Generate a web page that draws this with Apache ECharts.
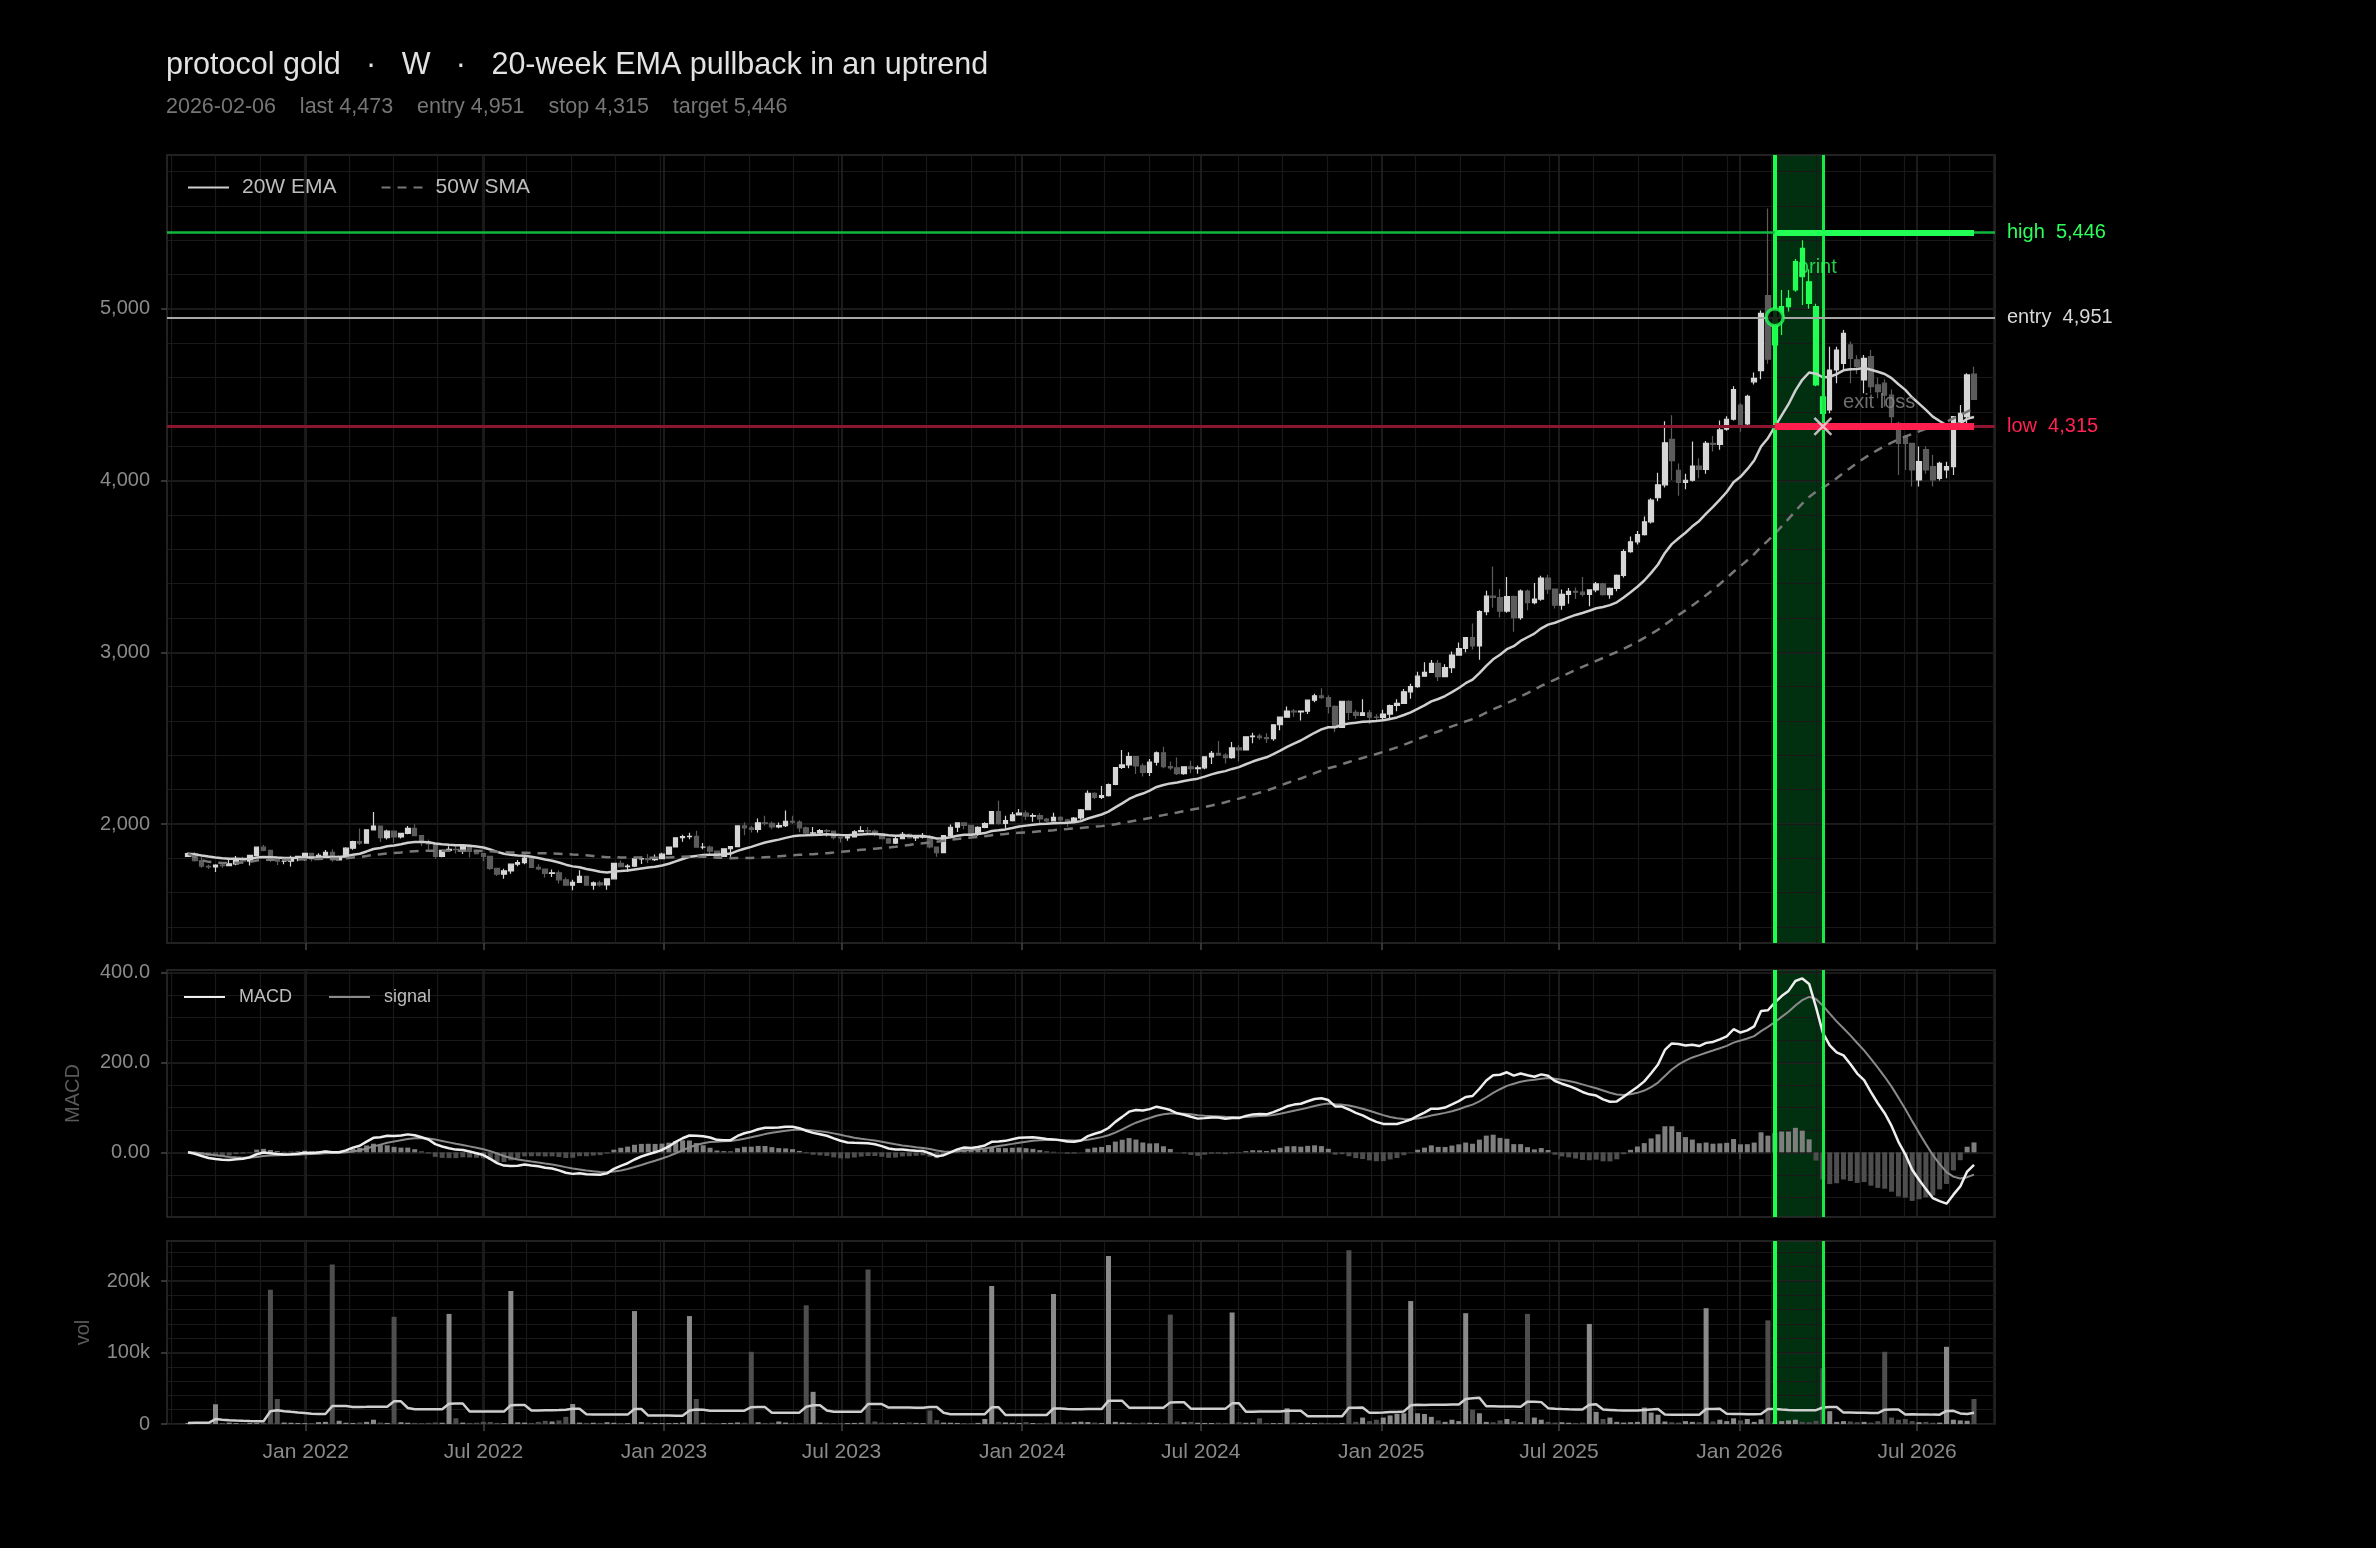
<!DOCTYPE html>
<html>
<head>
<meta charset="utf-8">
<script src="https://cdn.jsdelivr.net/npm/echarts@6/dist/echarts.min.js"></script>
<style>
  html, body { margin: 0; padding: 0; background: #000; }
  #chart { width: 2376px; height: 1548px; }
</style>
</head>
<body>
<div id="chart"></div>
<script>
// weekly bars, first one on this date
var firstWeek = '2021-09-03'

var opens = [
  1812, 1827, 1787, 1754, 1750, 1761, 1757, 1768, 1793, 1784,
  1817, 1865, 1846, 1792, 1783, 1783, 1804, 1811, 1829, 1797,
  1818, 1835, 1791, 1808, 1859, 1898, 1889, 1966, 1988, 1921,
  1958, 1925, 1945, 1975, 1932, 1897, 1884, 1811, 1846, 1853,
  1851, 1871, 1840, 1827, 1811, 1742, 1708, 1727, 1766, 1775,
  1802, 1747, 1738, 1712, 1716, 1675, 1644, 1660, 1695, 1644,
  1657, 1645, 1681, 1771, 1751, 1755, 1797, 1798, 1793, 1798,
  1824, 1866, 1920, 1926, 1928, 1865, 1865, 1842, 1811, 1856,
  1868, 1989, 1978, 1969, 2007, 2004, 1983, 1990, 2016, 2011,
  1978, 1946, 1948, 1961, 1958, 1921, 1919, 1925, 1955, 1962,
  1959, 1943, 1914, 1889, 1914, 1940, 1919, 1924, 1925, 1866,
  1833, 1932, 1981, 2006, 1992, 1940, 1980, 2002, 2072, 2004,
  2020, 2053, 2063, 2045, 2049, 2029, 2018, 2039, 2024, 2013,
  2035, 2083, 2179, 2155, 2165, 2230, 2329, 2344, 2392, 2338,
  2301, 2360, 2415, 2334, 2327, 2293, 2333, 2322, 2327, 2391,
  2411, 2401, 2386, 2443, 2431, 2508, 2512, 2503, 2497, 2578,
  2622, 2658, 2653, 2657, 2721, 2747, 2736, 2685, 2563, 2715,
  2650, 2633, 2648, 2622, 2621, 2640, 2690, 2703, 2770, 2800,
  2861, 2883, 2936, 2858, 2911, 2984, 3022, 3085, 3037, 3237,
  3327, 3319, 3240, 3325, 3202, 3357, 3289, 3310, 3432, 3368,
  3274, 3337, 3355, 3350, 3337, 3363, 3398, 3336, 3372, 3448,
  3586, 3643, 3685, 3760, 3900, 3975, 4240, 4060, 3990, 4002,
  4085, 4065, 4217, 4210, 4300, 4357, 4440, 4330, 4575, 4640,
  5077, 4790, 4955, 5013, 5110, 5352, 5158, 5013, 4488, 4411,
  4644, 4683, 4790, 4703, 4586, 4722, 4557, 4567, 4498, 4333,
  4256, 4217, 4004, 4180, 4081, 4013, 4062, 4081, 4343, 4372,
  4620
]
var highs = [
  1834, 1836, 1809, 1764, 1765, 1770, 1800, 1814, 1810, 1818,
  1868, 1877, 1848, 1792, 1795, 1815, 1815, 1830, 1831, 1830,
  1848, 1853, 1815, 1865, 1902, 1974, 1970, 2070, 1990, 1966,
  1960, 1948, 1988, 1998, 1935, 1910, 1885, 1849, 1870, 1874,
  1876, 1880, 1847, 1828, 1812, 1745, 1739, 1767, 1790, 1808,
  1802, 1765, 1740, 1735, 1729, 1688, 1676, 1730, 1698, 1665,
  1670, 1682, 1772, 1787, 1765, 1804, 1810, 1825, 1823, 1833,
  1869, 1922, 1937, 1949, 1960, 1890, 1875, 1846, 1858, 1870,
  1990, 2010, 1990, 2032, 2048, 2015, 2009, 2079, 2048, 2022,
  1985, 1983, 1971, 1971, 1958, 1925, 1935, 1963, 1987, 1982,
  1968, 1946, 1918, 1925, 1953, 1945, 1933, 1947, 1936, 1866,
  1935, 1997, 2009, 2010, 1995, 1987, 2010, 2075, 2135, 2048,
  2070, 2088, 2078, 2062, 2062, 2035, 2065, 2045, 2030, 2041,
  2088, 2195, 2185, 2222, 2236, 2330, 2431, 2418, 2395, 2352,
  2378, 2422, 2450, 2364, 2387, 2335, 2368, 2340, 2392, 2425,
  2483, 2412, 2477, 2460, 2509, 2531, 2525, 2529, 2578, 2625,
  2685, 2670, 2660, 2722, 2758, 2790, 2750, 2690, 2715, 2721,
  2665, 2726, 2664, 2639, 2665, 2696, 2726, 2786, 2817, 2886,
  2942, 2955, 2955, 2930, 3005, 3057, 3087, 3168, 3245, 3358,
  3500, 3368, 3438, 3330, 3366, 3366, 3403, 3446, 3452, 3370,
  3365, 3375, 3377, 3438, 3363, 3409, 3405, 3378, 3453, 3600,
  3675, 3707, 3791, 3897, 4045, 4345, 4381, 4100, 4040, 4227,
  4130, 4230, 4260, 4350, 4375, 4550, 4450, 4500, 4630, 4990,
  5585, 4995, 5110, 5110, 5290, 5400, 5230, 5030, 4557, 4780,
  4780, 4877, 4810, 4730, 4732, 4760, 4600, 4590, 4530, 4343,
  4266, 4217, 4198, 4200, 4150, 4110, 4110, 4372, 4440, 4625,
  4663
]
var lows = [
  1808, 1782, 1745, 1738, 1721, 1745, 1755, 1760, 1770, 1758,
  1813, 1842, 1778, 1761, 1765, 1753, 1783, 1786, 1782, 1790,
  1806, 1780, 1788, 1806, 1850, 1878, 1888, 1964, 1895, 1910,
  1890, 1915, 1940, 1930, 1872, 1850, 1798, 1807, 1840, 1828,
  1825, 1805, 1822, 1784, 1732, 1697, 1681, 1711, 1754, 1765,
  1745, 1730, 1688, 1691, 1654, 1640, 1614, 1658, 1640, 1617,
  1636, 1617, 1680, 1747, 1721, 1750, 1767, 1773, 1785, 1797,
  1823, 1865, 1896, 1911, 1861, 1853, 1818, 1804, 1809, 1809,
  1865, 1934, 1950, 1950, 1992, 1970, 1975, 1982, 2000, 1952,
  1937, 1935, 1940, 1925, 1910, 1893, 1902, 1922, 1952, 1942,
  1929, 1912, 1885, 1884, 1913, 1914, 1901, 1915, 1857, 1810,
  1830, 1920, 1954, 1970, 1932, 1932, 1975, 2001, 1995, 1973,
  2015, 2050, 2023, 2013, 2002, 2010, 2015, 2015, 1984, 2010,
  2025, 2080, 2146, 2146, 2160, 2225, 2320, 2325, 2291, 2277,
  2280, 2340, 2325, 2315, 2286, 2287, 2295, 2293, 2319, 2350,
  2396, 2353, 2380, 2364, 2430, 2470, 2491, 2472, 2485, 2546,
  2620, 2624, 2603, 2640, 2709, 2730, 2643, 2536, 2560, 2605,
  2613, 2631, 2583, 2603, 2600, 2615, 2656, 2700, 2730, 2793,
  2860, 2879, 2833, 2857, 2880, 2982, 3000, 3016, 2957, 3215,
  3260, 3202, 3230, 3120, 3190, 3245, 3280, 3300, 3340, 3255,
  3247, 3283, 3310, 3325, 3268, 3350, 3330, 3312, 3355, 3435,
  3580, 3628, 3680, 3750, 3880, 3960, 4004, 3911, 3950, 3995,
  4013, 4040, 4170, 4180, 4290, 4350, 4285, 4310, 4560, 4590,
  4680, 4780, 4848, 4984, 5100, 5022, 5000, 4550, 4256, 4392,
  4567, 4644, 4567, 4620, 4508, 4508, 4480, 4430, 4333, 4033,
  4062, 3965, 3965, 4040, 3965, 4000, 4013, 4033, 4330, 4333,
  4469
]
var closes = [
  1827, 1787, 1754, 1750, 1761, 1757, 1768, 1793, 1784, 1817,
  1865, 1846, 1792, 1783, 1783, 1804, 1811, 1829, 1797, 1818,
  1835, 1791, 1808, 1859, 1898, 1889, 1966, 1988, 1921, 1958,
  1925, 1945, 1975, 1932, 1897, 1884, 1811, 1846, 1853, 1851,
  1871, 1840, 1827, 1811, 1742, 1708, 1727, 1766, 1775, 1802,
  1747, 1738, 1712, 1716, 1675, 1644, 1660, 1695, 1644, 1657,
  1645, 1681, 1771, 1751, 1755, 1797, 1798, 1793, 1798, 1824,
  1866, 1920, 1926, 1928, 1865, 1865, 1842, 1811, 1856, 1868,
  1989, 1978, 1969, 2007, 2004, 1983, 1990, 2016, 2011, 1978,
  1946, 1948, 1961, 1958, 1921, 1919, 1925, 1955, 1962, 1959,
  1943, 1914, 1889, 1914, 1940, 1919, 1924, 1925, 1866, 1833,
  1932, 1981, 2006, 1992, 1940, 1980, 2002, 2072, 2004, 2020,
  2053, 2063, 2045, 2049, 2029, 2018, 2039, 2024, 2013, 2035,
  2083, 2179, 2155, 2165, 2230, 2329, 2344, 2392, 2338, 2301,
  2360, 2415, 2334, 2327, 2293, 2333, 2322, 2327, 2391, 2411,
  2401, 2386, 2443, 2431, 2508, 2512, 2503, 2497, 2578, 2622,
  2658, 2653, 2657, 2721, 2747, 2736, 2685, 2563, 2715, 2650,
  2633, 2648, 2622, 2621, 2640, 2690, 2703, 2770, 2800, 2861,
  2883, 2936, 2858, 2911, 2984, 3022, 3085, 3037, 3237, 3327,
  3319, 3240, 3325, 3202, 3357, 3289, 3310, 3432, 3368, 3274,
  3337, 3355, 3350, 3337, 3363, 3398, 3336, 3372, 3448, 3586,
  3643, 3685, 3760, 3886, 3975, 4220, 4116, 3990, 4002, 4085,
  4065, 4217, 4210, 4295, 4357, 4530, 4320, 4490, 4595, 4974,
  4707, 4945, 5013, 5061, 5275, 5187, 5032, 4557, 4391, 4644,
  4760, 4857, 4712, 4664, 4712, 4547, 4518, 4498, 4372, 4217,
  4217, 4062, 4110, 4062, 4004, 4100, 4081, 4372, 4391, 4615,
  4473
]
var volumes = [
  1500, 2200, 1800, 1200, 27600, 1500, 2000, 1300, 1100, 1600,
  1400, 1800, 187700, 35000, 2100, 1800, 1500, 1200, 1300, 2600,
  3000, 223000, 4500, 1800, 1500, 2200, 3000, 6000, 2000, 1500,
  150000, 2500, 1800, 1500, 1200, 1600, 2200, 1800, 154000, 8000,
  2000, 1500, 1800, 3000, 2800, 1600, 1200, 186000, 2400, 2000,
  1500, 3000, 4500, 3500, 5000, 10000, 28000, 2000, 1500, 1800,
  1500, 2500, 1800, 1400, 1200, 158000, 2800, 2000, 1500, 1300,
  1200, 1500, 2000, 151000, 35000, 1800, 1500, 1200, 1400, 1600,
  2200, 1800, 101000, 2500, 1500, 1800, 3500, 2000, 1400, 1600,
  166000, 45000, 2000, 1600, 1400, 1200, 1300, 1500, 1800, 216000,
  3500, 2000, 1500, 1800, 1400, 2200, 1600, 1300, 19000, 5500,
  2000, 1800, 1500, 1400, 1200, 1600, 7000, 193000, 3000, 2200,
  1800, 1500, 2500, 1400, 1300, 1800, 182000, 2600, 2000, 2800,
  3200, 2800, 2000, 1500, 235000, 3000, 2200, 1800, 1500, 2000,
  1800, 1500, 1200, 153000, 3500, 2500, 3000, 1800, 1500, 1400,
  1800, 1500, 156000, 2500, 1800, 2000, 8000, 1500, 1300, 1200,
  22000, 2000, 1500, 1600, 1400, 1800, 1500, 1200, 1500, 243000,
  3000, 9000, 4000, 6000, 9000, 12000, 14000, 15000, 172000, 15000,
  14000, 10000, 5000, 3000, 6000, 4000, 155000, 20000, 15000, 3000,
  2500, 5000, 7000, 4000, 2500, 154000, 9000, 6000, 3000, 2000,
  2500, 1800, 1500, 2000, 140000, 17000, 7000, 9000, 3000, 2000,
  2500, 3000, 23000, 16000, 13000, 3500, 2500, 2000, 4000, 3000,
  2500, 162000, 3500, 6000, 4000, 8000, 5000, 7000, 3000, 6500,
  145000, 2500, 4000, 5000, 6000, 3000, 2500, 4500, 78000, 18000,
  3000, 4000, 3500, 2500, 3000, 2000, 4000, 101000, 9000, 6000,
  7000, 4000, 2500, 3000, 1800, 2000, 108000, 6000, 5000, 4500,
  35000
]

// trade setup
var entryDate = '2026-02-06'
var exitDate = '2026-03-27'
var entryPrice = 4951
var stopPrice = 4315
var targetPrice = 5446

// ticks
var priceTicks = [2000, 3000, 4000, 5000]
var macdTicks = [0, 200, 400]
var volTicks = [0, 100000, 200000]
var dateTicks = ['2022-01-01', '2022-07-01', '2023-01-01', '2023-07-01', '2024-01-01',
  '2024-07-01', '2025-01-01', '2025-07-01', '2026-01-01', '2026-07-01']
var months = ['Jan', 'Feb', 'Mar', 'Apr', 'May', 'Jun', 'Jul', 'Aug', 'Sep', 'Oct', 'Nov', 'Dec']

var DAY = 86400000
var t0 = Date.parse(firstWeek)
var weeks = closes.map(function (c, i) { return t0 + i * 7 * DAY })
var tEntry = Date.parse(entryDate)
var tExit = Date.parse(exitDate)
var tLast = weeks[weeks.length - 1]
var xMin = t0 - 21.4 * DAY
var xMax = tLast + 21.4 * DAY

// indicators
function emaOf(values, span) {
  var k = 2 / (span + 1)
  var out = []
  values.forEach(function (v, i) {
    out.push(i === 0 ? v : out[i - 1] + k * (v - out[i - 1]))
  })
  return out
}
function meanOf(values, n) {
  return values.map(function (v, i) {
    var s = 0, c = 0
    for (var j = Math.max(0, i - n + 1); j <= i; j++) { s += values[j]; c++ }
    return s / c
  })
}
var ema20 = emaOf(closes, 20)
var sma50 = meanOf(closes, 50)
var ema12 = emaOf(closes, 12)
var ema26 = emaOf(closes, 26)
var macd = ema12.map(function (v, i) { return v - ema26[i] })
var signal = emaOf(macd, 9)
var hist = macd.map(function (v, i) { return v - signal[i] })
var volAvg = meanOf(volumes, 20)

function pairs(arr) { return arr.map(function (v, i) { return [weeks[i], v] }) }

var UP = '#d6d6d6', DOWN = '#5c5c5c', GREEN = '#22ff55'
var candles = weeks.map(function (t, i) {
  var item = { value: [t, opens[i], closes[i], lows[i], highs[i]] }
  if (t >= tEntry && t <= tExit) {
    item.itemStyle = { color: GREEN, color0: GREEN, borderColor: GREEN, borderColor0: GREEN }
  }
  return item
})

// grid line positions
var majorX = dateTicks.map(function (d) { return Date.parse(d) })
var minorX = []
for (var t = Date.parse('2021-10-01') - 45.3 * DAY; t < xMax; t += 45.3 * DAY) minorX.push(t)
function steps(a, b, s) { var o = []; for (var v = a; v <= b; v += s) o.push(v); return o }

function fmtNum(v) { return v.toLocaleString('en-US') }
var font = 'Liberation Sans'
var gridMajor = '#242424', gridMinor = '#191919'
var grids = [
  { top: 155, height: 788 },
  { top: 970, height: 247 },
  { top: 1241, height: 183 }
]
var xAxes = [], yAxes = []
grids.forEach(function (g, gi) {
  xAxes.push({
    type: 'value', gridIndex: gi, min: xMin, max: xMax, scale: true,
    axisLine: { show: false },
    axisTick: { show: true, length: 7, customValues: majorX, lineStyle: { color: '#444', width: 1.5 } },
    axisLabel: {
      show: gi === 2, customValues: majorX, color: '#8a8a8a', fontSize: 21, margin: 18, fontFamily: font,
      formatter: function (v) { var d = new Date(v); return months[d.getUTCMonth()] + ' ' + d.getUTCFullYear() }
    },
    splitLine: { show: true, lineStyle: { color: gridMajor, width: 1.5 } }
  })
  xAxes.push({
    type: 'value', gridIndex: gi, min: xMin, max: xMax, scale: true,
    axisLine: { show: false }, axisLabel: { show: false },
    axisTick: { show: false, customValues: minorX },
    splitLine: { show: true, lineStyle: { color: gridMinor, width: 1.2 } }
  })
})

var yDefs = [
  { min: 1307, max: 5896, ticks: priceTicks, minor: steps(1400, 5800, 200), fmt: fmtNum, name: '', gap: 0 },
  { min: -144, max: 406, ticks: macdTicks, minor: steps(-100, 400, 50),
    fmt: function (v) { return v === 0 ? '0.00' : v.toFixed(1) }, name: 'MACD', gap: 84 },
  { min: 0, max: 256000, ticks: volTicks, minor: steps(0, 240000, 20000),
    fmt: function (v) { return v === 0 ? '0' : (v / 1000) + 'k' }, name: 'vol', gap: 74 }
]
yDefs.forEach(function (d, gi) {
  yAxes.push({
    type: 'value', gridIndex: gi, min: d.min, max: d.max,
    name: d.name, nameLocation: 'middle', nameRotate: 90, nameGap: d.gap,
    nameTextStyle: { color: '#5a5a5a', fontSize: 20, fontFamily: font },
    axisLine: { show: false },
    axisTick: { show: true, length: 6, customValues: d.ticks, lineStyle: { color: '#444', width: 1.5 } },
    axisLabel: { customValues: d.ticks, formatter: d.fmt, color: '#8a8a8a', fontSize: 20, margin: 17, fontFamily: font },
    splitLine: { show: true, lineStyle: { color: gridMajor, width: 1.5 } }
  })
  yAxes.push({
    type: 'value', gridIndex: gi, min: d.min, max: d.max,
    axisLine: { show: false }, axisLabel: { show: false },
    axisTick: { show: false, customValues: d.minor },
    splitLine: { show: true, lineStyle: { color: gridMinor, width: 1.2 } }
  })
})

// band (entry -> exit) for every panel
var bandArea = {
  silent: true, z: -1,
  itemStyle: { color: '#00300f' },
  data: [[{ xAxis: tEntry }, { xAxis: tExit }]]
}
var bandEdges = [
  { xAxis: tEntry, lineStyle: { color: '#19ff4a', width: 4, type: 'solid' } },
  { xAxis: tExit, lineStyle: { color: '#19e846', width: 3, type: 'solid' } }
]
function levelLabel(text, color) {
  return { show: true, position: 'end', distance: 12, formatter: text, color: color, fontSize: 20, fontFamily: font }
}

var option = {
  backgroundColor: '#000',
  animation: false,
  textStyle: { fontFamily: font },
  title: {
    text: 'protocol gold   \u00b7   W   \u00b7   20-week EMA pullback in an uptrend',
    subtext: '2026-02-06    last 4,473    entry 4,951    stop 4,315    target 5,446',
    left: 166, top: 50, padding: 0, itemGap: 15,
    textStyle: { color: '#e2e2e2', fontSize: 30.5, fontWeight: 'normal', fontFamily: font },
    subtextStyle: { color: '#767676', fontSize: 21.5, fontFamily: font }
  },
  legend: [
    {
      data: ['20W EMA', '50W SMA'], left: 182, top: 172,
      itemWidth: 41, itemHeight: 14, itemGap: 44, selectedMode: false, itemStyle: { opacity: 0 },
      textStyle: { color: '#bdbdbd', fontSize: 21, fontFamily: font, padding: [0, 0, 0, 8] }
    },
    {
      data: ['MACD', 'signal'], left: 178, top: 983,
      itemWidth: 41, itemHeight: 14, itemGap: 36, selectedMode: false, itemStyle: { opacity: 0 },
      textStyle: { color: '#bdbdbd', fontSize: 18, fontFamily: font, padding: [0, 0, 0, 9] }
    }
  ],
  grid: grids.map(function (g) {
    return { left: 167, right: 381, top: g.top, height: g.height, show: true,
      borderColor: '#2e2e2e', borderWidth: 1.5, backgroundColor: 'transparent' }
  }),
  xAxis: xAxes,
  yAxis: yAxes,
  series: [
    {
      type: 'candlestick', name: 'price', xAxisIndex: 0, yAxisIndex: 0,
      data: candles, barWidth: 5, encode: { x: 0, y: [1, 2, 3, 4] },
      itemStyle: { color: UP, color0: DOWN, borderColor: UP, borderColor0: DOWN, borderWidth: 1.2 },
      markArea: bandArea,
      markLine: {
        silent: true, symbol: 'none', label: { show: false },
        data: bandEdges.concat([
          { yAxis: targetPrice, lineStyle: { color: '#12b83c', width: 2.5, type: 'solid' },
            label: levelLabel('high  ' + fmtNum(targetPrice), '#2dff5c') },
          { yAxis: entryPrice, lineStyle: { color: '#a8a8a8', width: 2, type: 'solid' },
            label: levelLabel('entry  ' + fmtNum(entryPrice), '#d8d8d8') },
          { yAxis: stopPrice, lineStyle: { color: '#8c1630', width: 3, type: 'solid' },
            label: levelLabel('low  ' + fmtNum(stopPrice), '#ff2252') },
          [{ coord: [tEntry, targetPrice], lineStyle: { color: GREEN, width: 6, type: 'solid' } },
            { coord: [tLast, targetPrice] }],
          [{ coord: [tEntry, stopPrice], lineStyle: { color: '#ff1f4f', width: 7, type: 'solid' } },
            { coord: [tLast, stopPrice] }]
        ])
      }
    },
    {
      type: 'line', name: '20W EMA', xAxisIndex: 0, yAxisIndex: 0, data: pairs(ema20),
      symbol: 'none', lineStyle: { color: '#cfcfcf', width: 2.5 }, itemStyle: { color: '#cfcfcf' }, z: 3
    },
    {
      type: 'line', name: '50W SMA', xAxisIndex: 0, yAxisIndex: 0, data: pairs(sma50),
      symbol: 'none', lineStyle: { color: '#777', width: 2.5, type: [9, 7] }, itemStyle: { color: '#777' }, z: 3
    },
    {
      type: 'scatter', name: 'entry', xAxisIndex: 0, yAxisIndex: 0, data: [[tEntry, entryPrice]],
      symbol: 'circle', symbolSize: 17, z: 10,
      itemStyle: { color: '#000', borderColor: GREEN, borderWidth: 3.5 }
    },
    {
      type: 'scatter', name: 'exit', xAxisIndex: 0, yAxisIndex: 0, data: [[tExit, stopPrice]],
      symbol: 'path://M0,0L10,10M10,0L0,10', symbolSize: 17, z: 10,
      itemStyle: { color: 'none', borderColor: '#e6e6e6', borderWidth: 2.5 }
    },
    {
      type: 'scatter', name: 'notes', xAxisIndex: 0, yAxisIndex: 0, symbolSize: 1, z: 9,
      itemStyle: { color: 'transparent' },
      label: { show: true, position: 'right', distance: 0, fontSize: 20, fontFamily: font },
      data: [
        { value: [Date.parse('2026-03-01'), 5240], label: { formatter: 'print', color: '#2dff5c' } },
        { value: [Date.parse('2026-04-16'), 4455], label: { formatter: 'exit loss', color: '#8a8a8a' } }
      ]
    },
    {
      type: 'bar', name: 'hist', xAxisIndex: 2, yAxisIndex: 2, data: pairs(hist), barWidth: 5,
      itemStyle: { color: function (p) { return p.value[1] >= 0 ? '#7e7e7e' : '#4e4e4e' } },
      markArea: bandArea,
      markLine: { silent: true, symbol: 'none', label: { show: false }, data: bandEdges }
    },
    {
      type: 'line', name: 'signal', xAxisIndex: 2, yAxisIndex: 2, data: pairs(signal),
      symbol: 'none', lineStyle: { color: '#8a8a8a', width: 2 }, itemStyle: { color: '#8a8a8a' }
    },
    {
      type: 'line', name: 'MACD', xAxisIndex: 2, yAxisIndex: 2, data: pairs(macd),
      symbol: 'none', lineStyle: { color: '#eeeeee', width: 2.5 }, itemStyle: { color: '#eeeeee' }
    },
    {
      type: 'bar', name: 'volume', xAxisIndex: 4, yAxisIndex: 4, data: pairs(volumes), barWidth: 5,
      itemStyle: { color: function (p) { var i = p.dataIndex; return closes[i] >= opens[i] ? '#8a8a8a' : '#4e4e4e' } },
      markArea: bandArea,
      markLine: { silent: true, symbol: 'none', label: { show: false }, data: bandEdges }
    },
    {
      type: 'line', name: 'vol avg', xAxisIndex: 4, yAxisIndex: 4, data: pairs(volAvg),
      symbol: 'none', lineStyle: { color: '#cfcfcf', width: 2.5 }
    }
  ]
}

var myChart = echarts.init(document.getElementById('chart'))
myChart.setOption(option)
</script>
</body>
</html>
